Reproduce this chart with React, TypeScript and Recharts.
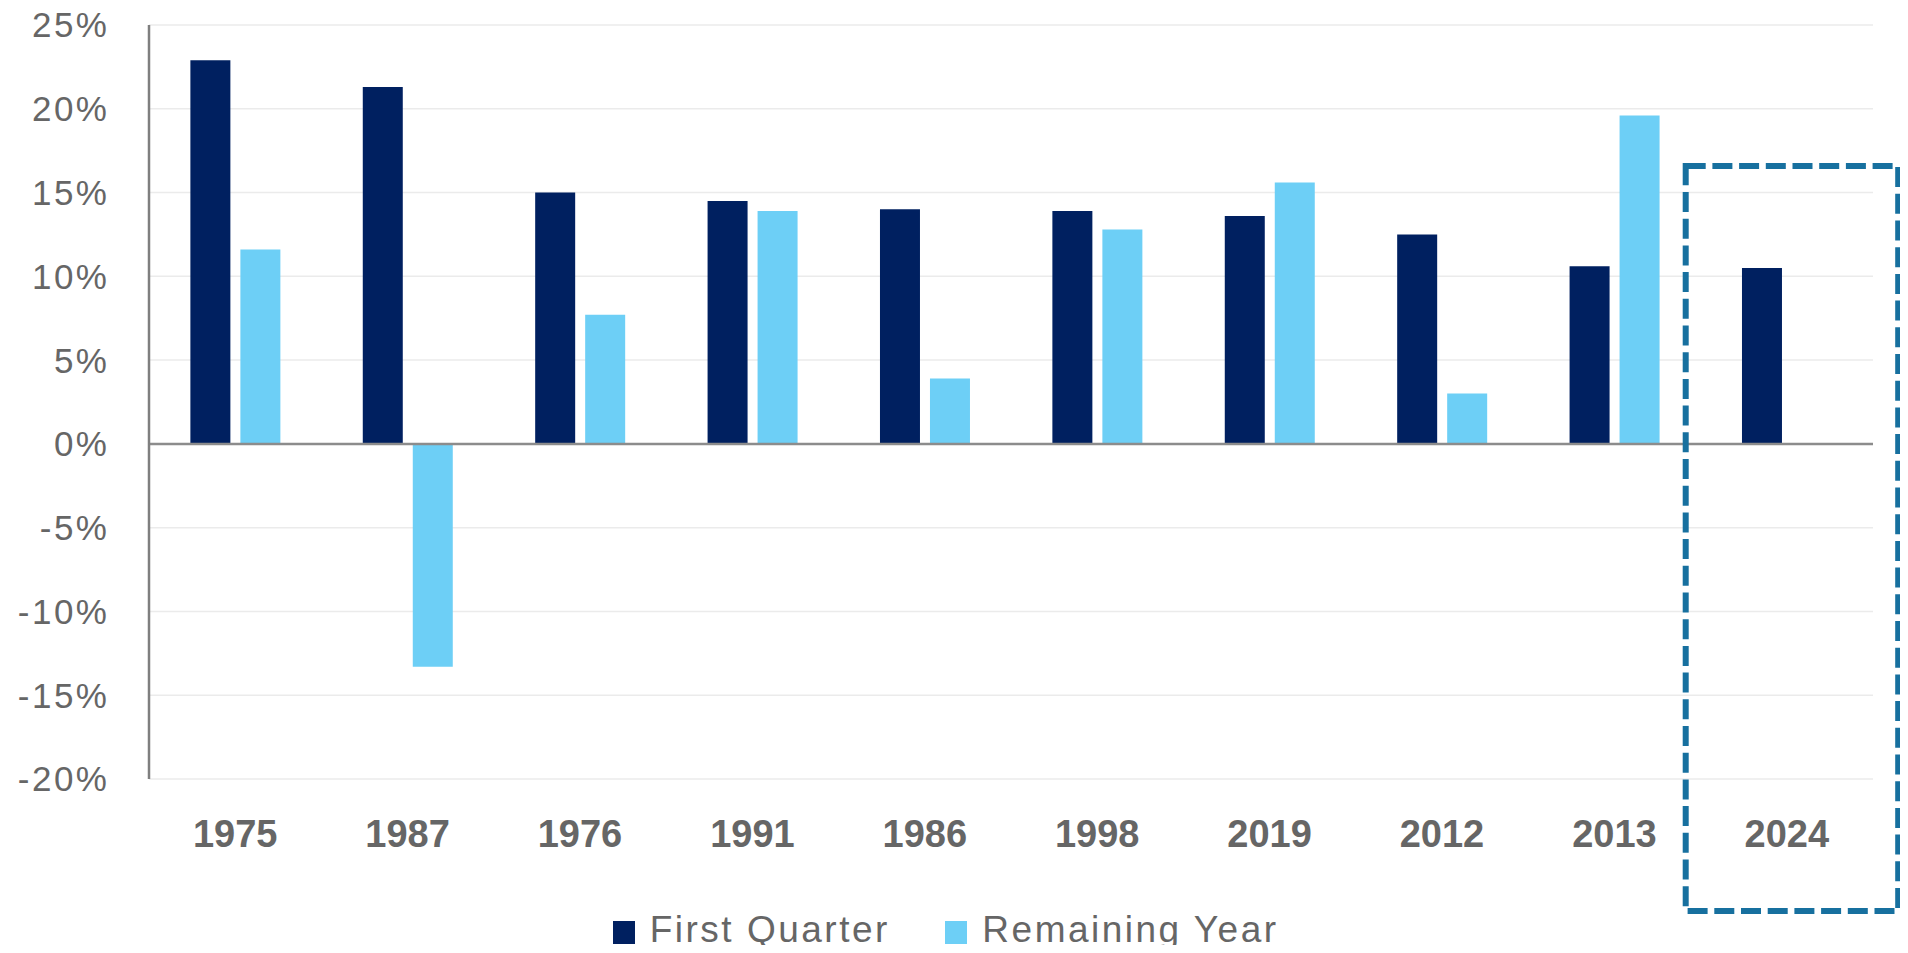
import React from "react";
import {
  BarChart,
  Bar,
  XAxis,
  YAxis,
  CartesianGrid,
  ReferenceLine,
  Legend,
} from "recharts";

const years = ["1975", "1987", "1976", "1991", "1986", "1998", "2019", "2012", "2013", "2024"];
const firstQuarter = [22.9, 21.3, 15.0, 14.5, 14.0, 13.9, 13.6, 12.5, 10.6, 10.5];
const remainingYear: (number | null)[] = [11.6, -13.3, 7.7, 13.9, 3.9, 12.8, 15.6, 3.0, 19.6, null];
const yTicks = [-20, -15, -10, -5, 0, 5, 10, 15, 20, 25];
const seriesNames = { fq: "First Quarter", ry: "Remaining Year" };

const data = years.map((y, i) => ({
  year: y,
  fq: firstQuarter[i],
  ry: remainingYear[i],
}));

const W = 1892;
const H = 937;
const DARK = "#002060";
const LIGHT = "#6DCFF6";
const GREY_TEXT = "#666666";
const BASE_FONT = "'Liberation Sans', Arial, Helvetica, sans-serif";

const renderLegend = (props: any) => {
  const payload = props.payload || [];
  return (
    <div
      style={{
        display: "flex",
        paddingLeft: 604.7,
        paddingTop: 26,
        height: 60,
        boxSizing: "border-box",
        fontFamily: BASE_FONT,
      }}
    >
      {payload.map((p: any, i: number) => (
        <div key={i} style={{ display: "flex", alignItems: "flex-start", marginRight: 55.5 }}>
          <div style={{ width: 22, height: 23, marginTop: 10, marginRight: 15, background: p.color }} />
          <span
            style={{
              fontSize: 37,
              lineHeight: "37px",
              letterSpacing: 2.5,
              color: GREY_TEXT,
              whiteSpace: "nowrap",
            }}
          >
            {p.value}
          </span>
        </div>
      ))}
    </div>
  );
};

export default function App() {
  return (
    <div style={{ position: "relative", width: W, height: H }}>
      <BarChart
        width={W}
        height={H}
        data={data}
        margin={{ top: 17, right: 27, left: 0, bottom: 0 }}
        barCategoryGap="24%"
        barGap={10}
      >
        <CartesianGrid vertical={false} stroke="#ebebeb" strokeWidth={1.5} />
        <XAxis
          dataKey="year"
          axisLine={false}
          tickLine={false}
          tickSize={0}
          tickMargin={41}
          height={106}
          interval={0}
          tick={{ fontSize: 38, fontWeight: 700, fill: GREY_TEXT, fontFamily: BASE_FONT }}
        />
        <YAxis
          domain={[-20, 25]}
          ticks={yTicks}
          width={141}
          tickLine={false}
          tickSize={0}
          tickMargin={39.5}
          axisLine={{ stroke: "#7f7f7f", strokeWidth: 2.5 }}
          tickFormatter={(v: number) => `${v}%`}
          tick={{ fontSize: 35, fill: GREY_TEXT, fontFamily: BASE_FONT, letterSpacing: 2.5 }}
          interval={0}
        />
        <ReferenceLine y={0} stroke="#8c8c8c" strokeWidth={2.5} />
        <Legend verticalAlign="bottom" height={60} content={renderLegend} />
        <Bar dataKey="fq" name={seriesNames.fq} fill={DARK} isAnimationActive={false} />
        <Bar dataKey="ry" name={seriesNames.ry} fill={LIGHT} isAnimationActive={false} />
      </BarChart>
      <svg
        width={W}
        height={H}
        style={{ position: "absolute", left: 0, top: 0, pointerEvents: "none", overflow: "visible" }}
      >
        <rect
          x={1677.7}
          y={158}
          width={212.5}
          height={745}
          fill="none"
          stroke="#17709f"
          strokeWidth={6}
          strokeDasharray="20 6.7"
        />
      </svg>
    </div>
  );
}
